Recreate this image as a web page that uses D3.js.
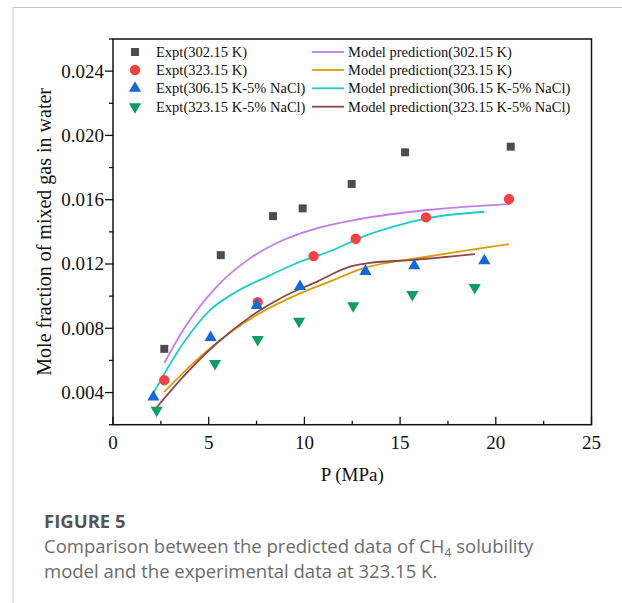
<!DOCTYPE html>
<html>
<head>
<meta charset="utf-8">
<script src="https://cdn.jsdelivr.net/npm/d3@7"></script>
<style>
  body { margin: 0; background: white; }
  svg { display: block; }
</style>
</head>
<body>
<div id="chart"></div>
<script>

// experimental data, P (MPa) and mole fraction
const expt302P = [2.68, 5.63, 8.36, 9.91, 12.47, 15.26, 20.78];
const expt302X = [0.00672, 0.01255, 0.01498, 0.01546, 0.01698, 0.01895, 0.0193];

const expt323P = [2.68, 7.56, 10.48, 12.68, 16.35, 20.69];
const expt323X = [0.00477, 0.00963, 0.01249, 0.01357, 0.0149, 0.01604];

const expt306NaClP = [2.11, 5.10, 7.51, 9.77, 13.19, 15.74, 19.40];
const expt306NaClX = [0.00373, 0.00743, 0.00942, 0.0106, 0.01154, 0.01189, 0.0122];

const expt323NaClP = [2.28, 5.33, 7.56, 9.72, 12.55, 15.64, 18.90];
const expt323NaClX = [0.0029, 0.00581, 0.0073, 0.00844, 0.0094, 0.0101, 0.01054];

// model prediction curves
const model302P = [2.68, 3.66, 5.41, 7.16, 8.90, 10.64, 12.90, 16.39, 20.74];
const model302X = [0.00584, 0.00788, 0.01058, 0.01235, 0.01349, 0.01422, 0.0148, 0.01536, 0.01573];

const model323P = [2.68, 4.55, 6.29, 7.51, 9.77, 11.51, 12.90, 16.39, 20.70];
const model323X = [0.00404, 0.00622, 0.00788, 0.00882, 0.01017, 0.011, 0.01166, 0.01245, 0.01324];

const model306NaClP = [2.10, 3.66, 5.07, 6.29, 8.03, 9.77, 11.51, 12.90, 14.65, 16.39, 19.40];
const model306NaClX = [0.00394, 0.00705, 0.00913, 0.01017, 0.0112, 0.01214, 0.01287, 0.01363, 0.01432, 0.01484, 0.01525];

const model323NaClP = [2.28, 3.66, 5.41, 7.16, 8.90, 10.64, 12.38, 13.43, 15.52, 18.91];
const model323NaClX = [0.00307, 0.00497, 0.00705, 0.00871, 0.00996, 0.01089, 0.01183, 0.01207, 0.01224, 0.01262];

// axis ticks
const xTicks = [0, 5, 10, 15, 20, 25];
const xMinor = [2.5, 7.5, 12.5, 17.5, 22.5];
const yTicks = [0.004, 0.008, 0.012, 0.016, 0.020, 0.024];
const yMinor = [0.002, 0.006, 0.010, 0.014, 0.018, 0.022, 0.026];

const zip = (p, x) => p.map((d, i) => ({p: d, x: x[i]}));

const exptSeries = [
    {name: "Expt(302.15 K)", shape: "square", color: "#4d4d4d", data: zip(expt302P, expt302X)},
    {name: "Expt(323.15 K)", shape: "circle", color: "#f44141", data: zip(expt323P, expt323X)},
    {name: "Expt(306.15 K-5% NaCl)", shape: "up", color: "#0f68dc", data: zip(expt306NaClP, expt306NaClX)},
    {name: "Expt(323.15 K-5% NaCl)", shape: "down", color: "#0e9f5e", data: zip(expt323NaClP, expt323NaClX)}
];

const modelSeries = [
    {name: "Model prediction(302.15 K)", color: "#c27ee3", data: zip(model302P, model302X)},
    {name: "Model prediction(323.15 K)", color: "#dc9a07", data: zip(model323P, model323X)},
    {name: "Model prediction(306.15 K-5% NaCl)", color: "#1ccccc", data: zip(model306NaClP, model306NaClX)},
    {name: "Model prediction(323.15 K-5% NaCl)", color: "#8a4848", data: zip(model323NaClP, model323NaClX)}
];

const SERIF = "'Liberation Serif', 'Times New Roman', serif";
const SANS = "'Open Sans', 'Noto Sans', sans-serif";

const W = 622, H = 603;
const svg = d3.select("#chart").append("svg")
    .attr("width", W)
    .attr("height", H);

// page frame (grey rules)
svg.append("line").attr("x1", 13).attr("x2", W).attr("y1", 7.5).attr("y2", 7.5)
    .attr("stroke", "#c4c4c4").attr("stroke-width", 1);
svg.append("line").attr("x1", 13).attr("x2", 13).attr("y1", 7.5).attr("y2", H)
    .attr("stroke", "#c4c4c4").attr("stroke-width", 1);

// plot area
const plot = {left: 113, right: 591.5, top: 39, bottom: 424.7};

const x = d3.scaleLinear().domain([0, 25]).range([plot.left, plot.right]);
const y = d3.scaleLinear().domain([0.002, 0.026]).range([plot.bottom, plot.top]);

// frame box
svg.append("rect")
    .attr("x", plot.left).attr("y", plot.top)
    .attr("width", plot.right - plot.left).attr("height", plot.bottom - plot.top)
    .attr("fill", "none").attr("stroke", "#111").attr("stroke-width", 1.5);

// x axis (ticks pointing in)
const xAxis = svg.append("g");
xAxis.selectAll(".xmaj").data(xTicks).enter().append("line")
    .attr("class", "xmaj")
    .attr("x1", d => x(d)).attr("x2", d => x(d))
    .attr("y1", plot.bottom).attr("y2", plot.bottom - 8)
    .attr("stroke", "#111").attr("stroke-width", 1.3);
xAxis.selectAll(".xmin").data(xMinor).enter().append("line")
    .attr("class", "xmin")
    .attr("x1", d => x(d)).attr("x2", d => x(d))
    .attr("y1", plot.bottom).attr("y2", plot.bottom - 4)
    .attr("stroke", "#111").attr("stroke-width", 1.3);
xAxis.selectAll(".xlab").data(xTicks).enter().append("text")
    .attr("class", "xlab")
    .attr("x", d => x(d)).attr("y", plot.bottom + 24)
    .attr("text-anchor", "middle")
    .attr("font-family", SERIF)
    .attr("font-size", "19px")
    .attr("fill", "#111")
    .text(d => d);

// y axis (ticks pointing out)
const yAxis = svg.append("g");
yAxis.selectAll(".ymaj").data(yTicks).enter().append("line")
    .attr("class", "ymaj")
    .attr("x1", plot.left - 8).attr("x2", plot.left)
    .attr("y1", d => y(d)).attr("y2", d => y(d))
    .attr("stroke", "#111").attr("stroke-width", 1.3);
yAxis.selectAll(".ymin").data(yMinor).enter().append("line")
    .attr("class", "ymin")
    .attr("x1", plot.left - 4).attr("x2", plot.left)
    .attr("y1", d => y(d)).attr("y2", d => y(d))
    .attr("stroke", "#111").attr("stroke-width", 1.3);
yAxis.selectAll(".ylab").data(yTicks).enter().append("text")
    .attr("class", "ylab")
    .attr("x", plot.left - 9).attr("y", d => y(d) + 6.5)
    .attr("text-anchor", "end")
    .attr("font-family", SERIF)
    .attr("font-size", "19px")
    .attr("fill", "#111")
    .text(d => d3.format(".3f")(d));

// axis titles
svg.append("text")
    .attr("x", (plot.left + plot.right) / 2).attr("y", 481)
    .attr("text-anchor", "middle")
    .attr("font-family", SERIF)
    .attr("font-size", "19px")
    .attr("fill", "#111")
    .text("P (MPa)");

svg.append("text")
    .attr("transform", `translate(51, ${(plot.top + plot.bottom) / 2}) rotate(-90)`)
    .attr("text-anchor", "middle")
    .attr("font-family", SERIF)
    .attr("font-size", "20px")
    .attr("fill", "#111")
    .text("Mole fraction of mixed gas in water");

// model curves
const line = d3.line()
    .x(d => x(d.p))
    .y(d => y(d.x))
    .curve(d3.curveMonotoneX);

svg.append("g").selectAll("path")
    .data(modelSeries)
    .enter().append("path")
    .attr("d", d => line(d.data))
    .attr("fill", "none")
    .attr("stroke", d => d.color)
    .attr("stroke-width", 1.8);

// markers
const symbolFor = {
    square: d3.symbol().type(d3.symbolSquare).size(64),
    circle: d3.symbol().type(d3.symbolCircle).size(85),
    up: d3.symbol().type(d3.symbolTriangle).size(64),
    down: d3.symbol().type(d3.symbolTriangle).size(64)
};

exptSeries.forEach(s => {
    svg.append("g").selectAll("path")
        .data(s.data)
        .enter().append("path")
        .attr("d", symbolFor[s.shape]())
        .attr("transform", d => `translate(${x(d.p)}, ${y(d.x)})` + (s.shape === "down" ? " rotate(180)" : ""))
        .attr("fill", s.color);
});

// legend
const legend = svg.append("g").attr("font-family", SERIF);
const rowY = [52, 70, 88.3, 106.7];

exptSeries.forEach((s, i) => {
    legend.append("path")
        .attr("d", symbolFor[s.shape]())
        .attr("transform", `translate(135, ${rowY[i]})` + (s.shape === "down" ? " rotate(180)" : ""))
        .attr("fill", s.color);
    legend.append("text")
        .attr("x", 156).attr("y", rowY[i] + 5)
        .attr("font-size", "14.5px")
        .attr("fill", "#111")
        .text(s.name);
});

modelSeries.forEach((s, i) => {
    legend.append("line")
        .attr("x1", 312).attr("x2", 344)
        .attr("y1", rowY[i]).attr("y2", rowY[i])
        .attr("stroke", s.color).attr("stroke-width", 1.8);
    legend.append("text")
        .attr("x", 348).attr("y", rowY[i] + 5)
        .attr("font-size", "14.5px")
        .attr("fill", "#111")
        .text(s.name);
});

// caption
const caption = svg.append("g").attr("font-family", SANS);
caption.append("text")
    .attr("x", 44).attr("y", 528)
    .attr("font-size", "18.5px")
    .attr("font-weight", "bold")
    .attr("fill", "#555")
    .text("FIGURE 5");

const cap1 = caption.append("text")
    .attr("x", 44).attr("y", 553)
    .attr("font-size", "18.5px")
    .attr("fill", "#6b6b6b");
cap1.append("tspan").text("Comparison between the predicted data of CH");
cap1.append("tspan").attr("font-size", "12px").attr("dy", 4).text("4");
cap1.append("tspan").attr("dy", -4).text(" solubility");

caption.append("text")
    .attr("x", 44).attr("y", 578)
    .attr("font-size", "18.5px")
    .attr("fill", "#6b6b6b")
    .text("model and the experimental data at 323.15 K.");

</script>
</body>
</html>
